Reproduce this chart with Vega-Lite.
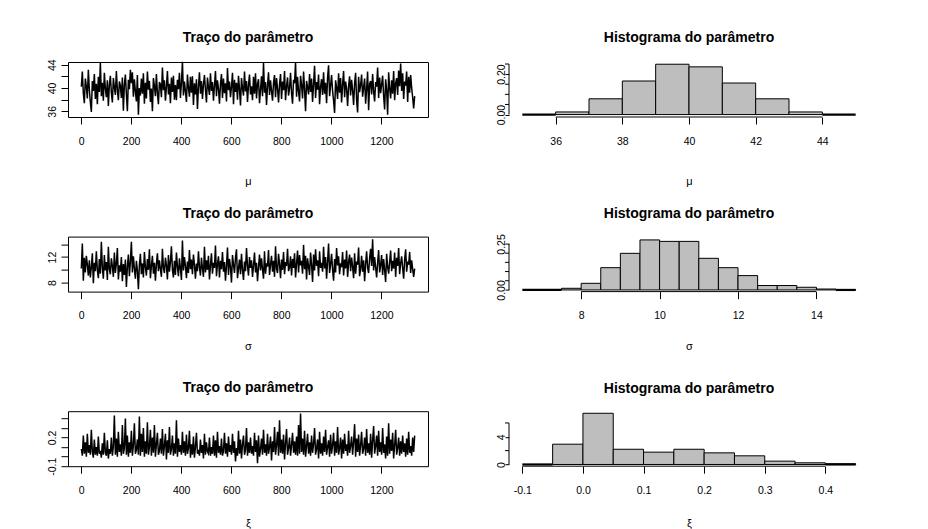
{
"$schema": "https://vega.github.io/schema/vega-lite/v6.json",
"background": "white",
"padding": {"left": 46, "top": 30, "right": 0, "bottom": 0},
"config": {
 "font": "Liberation Sans",
 "view": {"stroke": "black", "strokeWidth": 1},
 "axis": {"grid": false, "domain": false, "ticks": true, "tickColor": "black", "tickSize": 7, "tickWidth": 1, "labelColor": "black", "labelFontSize": 10.5, "labelFont": "Liberation Sans", "titleColor": "black", "titleFontWeight": "normal", "titleFontSize": 11, "titleFont": "Liberation Sans", "labelOverlap": false, "labelFlush": false, "labelBound": false},
 "axisY": {"labelAngle": 270, "labelAlign": "center", "labelBaseline": "alphabetic", "labelPadding": 6},
 "axisX": {"labelPadding": 12, "labelBaseline": "top", "titlePadding": 29},
 "title": {"fontSize": 14, "fontWeight": "bold", "font": "Liberation Sans", "color": "black", "anchor": "middle", "offset": 17.2, "baseline": "alphabetic"}
},
"datasets": {
"trace": [
{"t":1,"mu":40.2,"sigma":10.2,"xi":0.08},{"t":5,"mu":42.8,"sigma":14.1,"xi":0.01},{"t":9,"mu":39.1,"sigma":8.3,"xi":0.22},{"t":13,"mu":37.4,"sigma":11.9,"xi":0.03},{"t":17,"mu":41.6,"sigma":9.6,"xi":0.15},{"t":21,"mu":40.3,"sigma":12.2,"xi":0.00},{"t":25,"mu":38.2,"sigma":10.8,"xi":0.24},{"t":29,"mu":43.1,"sigma":9.1,"xi":0.04},{"t":33,"mu":39.7,"sigma":11.5,"xi":0.12},{"t":37,"mu":37.6,"sigma":8.8,"xi":0.02},
{"t":41,"mu":35.9,"sigma":10.4,"xi":0.28},{"t":45,"mu":41.2,"sigma":12.6,"xi":0.05},{"t":49,"mu":39.5,"sigma":7.9,"xi":-0.01},{"t":53,"mu":42.4,"sigma":11.1,"xi":0.18},{"t":57,"mu":38.1,"sigma":9.8,"xi":0.02},{"t":61,"mu":40.7,"sigma":12.9,"xi":0.10},{"t":65,"mu":37.2,"sigma":10.0,"xi":0.01},{"t":69,"mu":41.9,"sigma":8.7,"xi":0.21},{"t":73,"mu":39.3,"sigma":11.7,"xi":0.03},{"t":77,"mu":44.3,"sigma":9.4,"xi":0.06},
{"t":81,"mu":38.6,"sigma":14.4,"xi":-0.01},{"t":85,"mu":40.9,"sigma":10.3,"xi":0.14},{"t":89,"mu":37.8,"sigma":8.6,"xi":0.02},{"t":93,"mu":42.6,"sigma":12.3,"xi":0.25},{"t":97,"mu":39.9,"sigma":9.9,"xi":0.04},{"t":101,"mu":38.4,"sigma":11.2,"xi":0.01},{"t":105,"mu":41.3,"sigma":8.4,"xi":0.17},{"t":109,"mu":36.9,"sigma":13.6,"xi":-0.02},{"t":113,"mu":40.5,"sigma":10.1,"xi":0.08},{"t":117,"mu":42.1,"sigma":9.3,"xi":0.03},
{"t":121,"mu":39.2,"sigma":11.8,"xi":0.20},{"t":125,"mu":37.5,"sigma":10.6,"xi":0.01},{"t":129,"mu":41.7,"sigma":8.9,"xi":0.11},{"t":133,"mu":40.1,"sigma":12.7,"xi":0.43},{"t":137,"mu":38.8,"sigma":9.5,"xi":0.02},{"t":141,"mu":42.9,"sigma":11.0,"xi":0.19},{"t":145,"mu":39.6,"sigma":13.4,"xi":0.00},{"t":149,"mu":37.9,"sigma":8.5,"xi":0.26},{"t":153,"mu":41.1,"sigma":10.7,"xi":0.05},{"t":157,"mu":40.4,"sigma":9.7,"xi":0.13},
{"t":161,"mu":38.3,"sigma":12.0,"xi":0.01},{"t":165,"mu":41.8,"sigma":8.2,"xi":0.33},{"t":169,"mu":36.1,"sigma":10.9,"xi":0.03},{"t":173,"mu":40.6,"sigma":9.2,"xi":0.09},{"t":177,"mu":42.3,"sigma":11.6,"xi":0.40},{"t":181,"mu":38.9,"sigma":7.3,"xi":0.02},{"t":185,"mu":36.0,"sigma":10.5,"xi":0.22},{"t":189,"mu":41.4,"sigma":12.4,"xi":0.00},{"t":193,"mu":39.8,"sigma":9.0,"xi":0.15},{"t":197,"mu":43.1,"sigma":11.3,"xi":0.04},
{"t":201,"mu":40.8,"sigma":14.4,"xi":0.27},{"t":205,"mu":42.7,"sigma":9.6,"xi":0.01},{"t":209,"mu":38.5,"sigma":12.1,"xi":0.12},{"t":213,"mu":41.5,"sigma":10.2,"xi":0.35},{"t":217,"mu":39.4,"sigma":8.6,"xi":0.03},{"t":221,"mu":37.7,"sigma":11.4,"xi":0.07},{"t":225,"mu":42.2,"sigma":9.9,"xi":0.18},{"t":229,"mu":35.4,"sigma":6.95,"xi":0.02},{"t":233,"mu":40.0,"sigma":10.8,"xi":0.42},{"t":237,"mu":38.7,"sigma":12.5,"xi":0.01},
{"t":241,"mu":41.6,"sigma":9.3,"xi":0.24},{"t":245,"mu":39.0,"sigma":11.0,"xi":0.05},{"t":249,"mu":42.5,"sigma":8.8,"xi":0.30},{"t":253,"mu":37.3,"sigma":12.8,"xi":0.00},{"t":257,"mu":40.9,"sigma":10.4,"xi":0.16},{"t":261,"mu":38.2,"sigma":9.1,"xi":0.03},{"t":265,"mu":42.8,"sigma":11.7,"xi":0.36},{"t":269,"mu":39.7,"sigma":10.0,"xi":0.02},{"t":273,"mu":41.2,"sigma":13.2,"xi":0.10},{"t":277,"mu":37.6,"sigma":8.7,"xi":0.28},
{"t":281,"mu":39.9,"sigma":10.6,"xi":0.01},{"t":285,"mu":36.0,"sigma":12.2,"xi":0.20},{"t":289,"mu":41.7,"sigma":9.4,"xi":0.04},{"t":293,"mu":40.3,"sigma":11.1,"xi":0.33},{"t":297,"mu":38.6,"sigma":8.3,"xi":0.00},{"t":301,"mu":42.4,"sigma":10.9,"xi":0.13},{"t":305,"mu":39.1,"sigma":12.6,"xi":0.25},{"t":309,"mu":37.2,"sigma":9.8,"xi":0.02},{"t":313,"mu":41.0,"sigma":11.5,"xi":0.06},{"t":317,"mu":40.6,"sigma":10.1,"xi":0.19},
{"t":321,"mu":38.4,"sigma":8.9,"xi":0.03},{"t":325,"mu":43.5,"sigma":13.3,"xi":0.29},{"t":329,"mu":39.6,"sigma":10.3,"xi":0.01},{"t":333,"mu":41.3,"sigma":9.5,"xi":0.11},{"t":337,"mu":37.8,"sigma":11.9,"xi":0.24},{"t":341,"mu":40.2,"sigma":10.7,"xi":-0.03},{"t":345,"mu":42.9,"sigma":8.5,"xi":0.17},{"t":349,"mu":38.9,"sigma":12.3,"xi":0.04},{"t":353,"mu":40.7,"sigma":9.7,"xi":0.31},{"t":357,"mu":37.4,"sigma":11.2,"xi":0.02},
{"t":361,"mu":41.8,"sigma":13.7,"xi":0.08},{"t":365,"mu":39.3,"sigma":10.0,"xi":0.22},{"t":369,"mu":42.1,"sigma":8.8,"xi":0.01},{"t":373,"mu":38.0,"sigma":11.4,"xi":0.14},{"t":377,"mu":40.5,"sigma":9.2,"xi":0.03},{"t":381,"mu":37.9,"sigma":12.7,"xi":0.38},{"t":385,"mu":41.4,"sigma":10.5,"xi":0.00},{"t":389,"mu":39.8,"sigma":9.0,"xi":0.19},{"t":393,"mu":42.6,"sigma":11.8,"xi":0.05},{"t":397,"mu":38.3,"sigma":10.2,"xi":0.12},
{"t":401,"mu":40.9,"sigma":8.4,"xi":0.02},{"t":405,"mu":44.5,"sigma":14.6,"xi":0.26},{"t":409,"mu":38.7,"sigma":9.9,"xi":0.04},{"t":413,"mu":41.1,"sigma":12.0,"xi":0.16},{"t":417,"mu":39.4,"sigma":10.6,"xi":0.01},{"t":421,"mu":37.6,"sigma":8.7,"xi":0.23},{"t":425,"mu":42.3,"sigma":11.3,"xi":0.03},{"t":429,"mu":40.0,"sigma":9.5,"xi":0.09},{"t":433,"mu":38.5,"sigma":13.1,"xi":0.27},{"t":437,"mu":41.9,"sigma":10.1,"xi":-0.01},
{"t":441,"mu":39.2,"sigma":11.6,"xi":0.13},{"t":445,"mu":42.0,"sigma":9.3,"xi":0.02},{"t":449,"mu":37.1,"sigma":12.4,"xi":0.21},{"t":453,"mu":40.8,"sigma":10.8,"xi":-0.01},{"t":457,"mu":38.9,"sigma":8.6,"xi":0.10},{"t":461,"mu":41.5,"sigma":11.0,"xi":0.25},{"t":465,"mu":36.4,"sigma":9.8,"xi":0.03},{"t":469,"mu":40.3,"sigma":12.9,"xi":0.07},{"t":473,"mu":42.7,"sigma":10.4,"xi":0.01},{"t":477,"mu":39.0,"sigma":9.1,"xi":0.18},
{"t":481,"mu":41.2,"sigma":11.9,"xi":0.04},{"t":485,"mu":38.1,"sigma":10.2,"xi":0.12},{"t":489,"mu":40.6,"sigma":8.9,"xi":-0.02},{"t":493,"mu":42.2,"sigma":13.6,"xi":0.24},{"t":497,"mu":39.7,"sigma":9.6,"xi":0.02},{"t":501,"mu":37.5,"sigma":11.5,"xi":0.15},{"t":505,"mu":41.8,"sigma":10.0,"xi":0.05},{"t":509,"mu":40.1,"sigma":12.2,"xi":0.03},{"t":513,"mu":38.8,"sigma":8.5,"xi":0.20},{"t":517,"mu":42.5,"sigma":10.7,"xi":0.01},
{"t":521,"mu":39.5,"sigma":12.6,"xi":0.10},{"t":525,"mu":41.0,"sigma":9.4,"xi":0.03},{"t":529,"mu":37.8,"sigma":11.1,"xi":0.22},{"t":533,"mu":40.4,"sigma":10.3,"xi":0.01},{"t":537,"mu":42.9,"sigma":13.8,"xi":0.17},{"t":541,"mu":38.6,"sigma":9.0,"xi":-0.01},{"t":545,"mu":41.3,"sigma":10.9,"xi":0.26},{"t":549,"mu":39.9,"sigma":12.1,"xi":0.04},{"t":553,"mu":37.3,"sigma":8.8,"xi":0.11},{"t":557,"mu":40.7,"sigma":11.4,"xi":0.02},
{"t":561,"mu":42.4,"sigma":10.1,"xi":0.19},{"t":565,"mu":38.3,"sigma":12.8,"xi":0.01},{"t":569,"mu":41.6,"sigma":9.7,"xi":0.06},{"t":573,"mu":39.1,"sigma":11.2,"xi":0.25},{"t":577,"mu":40.8,"sigma":8.3,"xi":0.03},{"t":581,"mu":37.7,"sigma":10.6,"xi":0.14},{"t":585,"mu":43.4,"sigma":13.5,"xi":0.00},{"t":589,"mu":39.6,"sigma":9.2,"xi":0.21},{"t":593,"mu":41.1,"sigma":11.7,"xi":0.05},{"t":597,"mu":38.4,"sigma":10.4,"xi":0.12},
{"t":601,"mu":40.2,"sigma":8.0,"xi":0.02},{"t":605,"mu":42.6,"sigma":12.3,"xi":0.24},{"t":609,"mu":37.2,"sigma":10.8,"xi":0.04},{"t":613,"mu":41.4,"sigma":9.5,"xi":0.16},{"t":617,"mu":39.3,"sigma":11.9,"xi":-0.05},{"t":621,"mu":40.9,"sigma":13.2,"xi":0.09},{"t":625,"mu":38.0,"sigma":8.7,"xi":0.01},{"t":629,"mu":42.1,"sigma":10.2,"xi":0.27},{"t":633,"mu":39.8,"sigma":11.6,"xi":0.03},{"t":637,"mu":37.0,"sigma":9.3,"xi":0.18},
{"t":641,"mu":41.7,"sigma":12.5,"xi":-0.02},{"t":645,"mu":40.0,"sigma":10.0,"xi":0.13},{"t":649,"mu":38.7,"sigma":8.4,"xi":0.22},{"t":653,"mu":42.8,"sigma":11.3,"xi":0.02},{"t":657,"mu":39.4,"sigma":9.8,"xi":0.07},{"t":661,"mu":41.2,"sigma":13.4,"xi":0.30},{"t":665,"mu":37.6,"sigma":10.6,"xi":0.01},{"t":669,"mu":40.5,"sigma":9.1,"xi":0.15},{"t":673,"mu":42.3,"sigma":12.0,"xi":0.04},{"t":677,"mu":38.9,"sigma":10.3,"xi":0.20},
{"t":681,"mu":40.3,"sigma":11.5,"xi":0.03},{"t":685,"mu":37.9,"sigma":8.9,"xi":0.11},{"t":689,"mu":41.9,"sigma":10.7,"xi":0.01},{"t":693,"mu":39.0,"sigma":12.7,"xi":0.25},{"t":697,"mu":42.5,"sigma":9.6,"xi":0.05},{"t":701,"mu":38.2,"sigma":11.1,"xi":0.17},{"t":705,"mu":40.7,"sigma":8.2,"xi":-0.07},{"t":709,"mu":41.5,"sigma":10.4,"xi":0.22},{"t":713,"mu":37.4,"sigma":12.4,"xi":0.00},{"t":717,"mu":39.7,"sigma":9.9,"xi":0.08},
{"t":721,"mu":42.0,"sigma":11.8,"xi":0.19},{"t":725,"mu":38.6,"sigma":10.1,"xi":0.02},{"t":729,"mu":44.3,"sigma":8.6,"xi":0.28},{"t":733,"mu":39.2,"sigma":12.9,"xi":0.04},{"t":737,"mu":41.0,"sigma":9.4,"xi":0.13},{"t":741,"mu":37.1,"sigma":11.0,"xi":0.01},{"t":745,"mu":40.4,"sigma":10.5,"xi":0.24},{"t":749,"mu":42.7,"sigma":13.1,"xi":0.03},{"t":753,"mu":38.8,"sigma":9.2,"xi":0.10},{"t":757,"mu":41.3,"sigma":10.8,"xi":0.21},
{"t":761,"mu":39.5,"sigma":12.2,"xi":-0.04},{"t":765,"mu":37.8,"sigma":9.7,"xi":0.16},{"t":769,"mu":40.9,"sigma":11.4,"xi":0.05},{"t":773,"mu":42.2,"sigma":8.9,"xi":0.31},{"t":777,"mu":38.4,"sigma":13.7,"xi":0.02},{"t":781,"mu":41.7,"sigma":10.2,"xi":0.12},{"t":785,"mu":39.9,"sigma":9.5,"xi":0.26},{"t":789,"mu":37.5,"sigma":12.5,"xi":0.01},{"t":793,"mu":40.6,"sigma":10.9,"xi":0.38},{"t":797,"mu":42.4,"sigma":8.7,"xi":0.04},
{"t":801,"mu":38.1,"sigma":11.6,"xi":0.18},{"t":805,"mu":41.1,"sigma":10.0,"xi":0.03},{"t":809,"mu":39.6,"sigma":12.8,"xi":0.23},{"t":813,"mu":42.9,"sigma":9.3,"xi":-0.03},{"t":817,"mu":37.9,"sigma":11.2,"xi":0.14},{"t":821,"mu":40.3,"sigma":10.6,"xi":0.29},{"t":825,"mu":41.8,"sigma":13.3,"xi":0.02},{"t":829,"mu":38.7,"sigma":9.8,"xi":0.09},{"t":833,"mu":40.0,"sigma":10.4,"xi":0.20},{"t":837,"mu":42.6,"sigma":12.1,"xi":0.01},
{"t":841,"mu":39.1,"sigma":9.1,"xi":0.12},{"t":845,"mu":37.3,"sigma":11.7,"xi":0.25},{"t":849,"mu":41.4,"sigma":10.3,"xi":0.04},{"t":853,"mu":40.8,"sigma":12.6,"xi":0.16},{"t":857,"mu":44.3,"sigma":8.8,"xi":0.02},{"t":861,"mu":38.5,"sigma":11.0,"xi":0.21},{"t":865,"mu":41.9,"sigma":13.0,"xi":0.01},{"t":869,"mu":39.4,"sigma":9.6,"xi":0.33},{"t":873,"mu":37.7,"sigma":12.3,"xi":0.03},{"t":877,"mu":42.1,"sigma":10.7,"xi":0.45},
{"t":881,"mu":40.5,"sigma":11.4,"xi":0.05},{"t":885,"mu":38.2,"sigma":9.4,"xi":0.19},{"t":889,"mu":42.8,"sigma":13.9,"xi":0.02},{"t":893,"mu":39.8,"sigma":10.1,"xi":0.27},{"t":897,"mu":36.0,"sigma":12.2,"xi":0.00},{"t":901,"mu":41.2,"sigma":8.5,"xi":0.11},{"t":905,"mu":40.1,"sigma":11.8,"xi":0.24},{"t":909,"mu":38.9,"sigma":10.5,"xi":0.03},{"t":913,"mu":42.4,"sigma":9.2,"xi":0.15},{"t":917,"mu":39.3,"sigma":12.7,"xi":0.01},
{"t":921,"mu":41.6,"sigma":10.8,"xi":0.22},{"t":925,"mu":37.6,"sigma":8.1,"xi":0.04},{"t":929,"mu":40.7,"sigma":12.4,"xi":0.13},{"t":933,"mu":43.8,"sigma":9.9,"xi":0.30},{"t":937,"mu":38.3,"sigma":13.2,"xi":0.02},{"t":941,"mu":41.0,"sigma":10.6,"xi":0.08},{"t":945,"mu":39.7,"sigma":11.5,"xi":0.18},{"t":949,"mu":42.3,"sigma":9.0,"xi":-0.02},{"t":953,"mu":37.2,"sigma":12.9,"xi":0.26},{"t":957,"mu":40.2,"sigma":10.3,"xi":0.03},
{"t":961,"mu":41.5,"sigma":11.1,"xi":0.14},{"t":965,"mu":38.8,"sigma":9.7,"xi":0.01},{"t":969,"mu":42.7,"sigma":13.6,"xi":0.21},{"t":973,"mu":39.0,"sigma":10.2,"xi":0.05},{"t":977,"mu":40.9,"sigma":12.0,"xi":0.28},{"t":981,"mu":37.4,"sigma":8.6,"xi":0.02},{"t":985,"mu":41.8,"sigma":11.3,"xi":0.10},{"t":989,"mu":43.9,"sigma":14.1,"xi":0.17},{"t":993,"mu":38.6,"sigma":9.5,"xi":0.00},{"t":997,"mu":40.4,"sigma":10.9,"xi":0.23},
{"t":1001,"mu":42.2,"sigma":12.5,"xi":0.03},{"t":1005,"mu":39.5,"sigma":10.0,"xi":0.12},{"t":1009,"mu":37.8,"sigma":8.3,"xi":0.25},{"t":1013,"mu":35.7,"sigma":11.7,"xi":0.01},{"t":1017,"mu":41.3,"sigma":9.6,"xi":0.16},{"t":1021,"mu":40.0,"sigma":13.4,"xi":0.04},{"t":1025,"mu":38.1,"sigma":10.7,"xi":0.31},{"t":1029,"mu":42.5,"sigma":12.1,"xi":0.02},{"t":1033,"mu":39.2,"sigma":9.3,"xi":0.09},{"t":1037,"mu":41.7,"sigma":11.0,"xi":0.20},
{"t":1041,"mu":37.5,"sigma":10.4,"xi":-0.02},{"t":1045,"mu":40.6,"sigma":12.8,"xi":0.18},{"t":1049,"mu":42.9,"sigma":9.1,"xi":0.03},{"t":1053,"mu":38.4,"sigma":11.6,"xi":0.24},{"t":1057,"mu":41.1,"sigma":10.2,"xi":0.06},{"t":1061,"mu":39.9,"sigma":13.0,"xi":0.13},{"t":1065,"mu":36.9,"sigma":8.9,"xi":0.01},{"t":1069,"mu":40.3,"sigma":11.2,"xi":0.27},{"t":1073,"mu":42.0,"sigma":12.4,"xi":0.04},{"t":1077,"mu":38.7,"sigma":9.8,"xi":0.11},
{"t":1081,"mu":41.4,"sigma":11.9,"xi":0.21},{"t":1085,"mu":39.6,"sigma":10.5,"xi":0.02},{"t":1089,"mu":37.1,"sigma":8.7,"xi":0.15},{"t":1093,"mu":40.8,"sigma":12.6,"xi":0.34},{"t":1097,"mu":42.6,"sigma":9.4,"xi":0.00},{"t":1101,"mu":38.0,"sigma":11.3,"xi":0.19},{"t":1105,"mu":35.8,"sigma":10.8,"xi":0.05},{"t":1109,"mu":41.9,"sigma":13.5,"xi":0.23},{"t":1113,"mu":39.3,"sigma":9.0,"xi":0.01},{"t":1117,"mu":40.5,"sigma":10.1,"xi":0.12},
{"t":1121,"mu":42.3,"sigma":12.2,"xi":0.26},{"t":1125,"mu":38.5,"sigma":9.7,"xi":0.03},{"t":1129,"mu":40.1,"sigma":11.5,"xi":0.08},{"t":1133,"mu":41.6,"sigma":8.2,"xi":0.20},{"t":1137,"mu":37.3,"sigma":10.9,"xi":0.01},{"t":1141,"mu":39.8,"sigma":12.9,"xi":0.29},{"t":1145,"mu":42.8,"sigma":10.3,"xi":0.04},{"t":1149,"mu":36.2,"sigma":9.5,"xi":0.14},{"t":1153,"mu":40.7,"sigma":11.8,"xi":0.02},{"t":1157,"mu":41.2,"sigma":13.3,"xi":0.24},
{"t":1161,"mu":38.9,"sigma":10.6,"xi":-0.01},{"t":1165,"mu":42.4,"sigma":14.8,"xi":0.17},{"t":1169,"mu":39.4,"sigma":9.9,"xi":0.32},{"t":1173,"mu":37.7,"sigma":12.0,"xi":0.03},{"t":1177,"mu":41.0,"sigma":10.4,"xi":0.11},{"t":1181,"mu":40.2,"sigma":8.8,"xi":0.22},{"t":1185,"mu":43.5,"sigma":11.1,"xi":0.01},{"t":1189,"mu":38.3,"sigma":13.1,"xi":0.27},{"t":1193,"mu":41.8,"sigma":9.6,"xi":0.05},{"t":1197,"mu":39.1,"sigma":10.7,"xi":0.15},
{"t":1201,"mu":40.6,"sigma":12.3,"xi":0.02},{"t":1205,"mu":42.1,"sigma":9.2,"xi":0.30},{"t":1209,"mu":38.6,"sigma":11.7,"xi":0.04},{"t":1213,"mu":36.3,"sigma":10.0,"xi":0.13},{"t":1217,"mu":41.5,"sigma":8.1,"xi":-0.02},{"t":1221,"mu":39.7,"sigma":12.5,"xi":0.21},{"t":1225,"mu":35.4,"sigma":10.5,"xi":0.01},{"t":1229,"mu":42.7,"sigma":9.4,"xi":0.35},{"t":1233,"mu":40.0,"sigma":11.2,"xi":0.03},{"t":1237,"mu":38.2,"sigma":13.0,"xi":0.18},
{"t":1241,"mu":41.3,"sigma":9.8,"xi":0.06},{"t":1245,"mu":39.0,"sigma":11.4,"xi":0.25},{"t":1249,"mu":42.9,"sigma":10.2,"xi":-0.02},{"t":1253,"mu":37.9,"sigma":12.7,"xi":0.12},{"t":1257,"mu":40.8,"sigma":8.9,"xi":0.28},{"t":1261,"mu":41.7,"sigma":11.9,"xi":0.02},{"t":1265,"mu":38.8,"sigma":10.6,"xi":0.09},{"t":1269,"mu":43.0,"sigma":13.4,"xi":0.20},{"t":1273,"mu":40.3,"sigma":9.3,"xi":0.01},{"t":1277,"mu":44.2,"sigma":11.0,"xi":0.16},
{"t":1281,"mu":39.5,"sigma":12.1,"xi":0.03},{"t":1285,"mu":42.5,"sigma":10.3,"xi":0.22},{"t":1289,"mu":38.1,"sigma":8.6,"xi":0.05},{"t":1293,"mu":41.1,"sigma":11.6,"xi":0.14},{"t":1297,"mu":40.4,"sigma":13.2,"xi":0.00},{"t":1301,"mu":42.8,"sigma":9.7,"xi":0.19},{"t":1305,"mu":37.6,"sigma":11.3,"xi":0.02},{"t":1309,"mu":41.9,"sigma":10.8,"xi":0.26},{"t":1313,"mu":39.2,"sigma":12.8,"xi":0.04},{"t":1317,"mu":42.2,"sigma":9.5,"xi":0.11},
{"t":1321,"mu":40.0,"sigma":11.5,"xi":0.01},{"t":1325,"mu":38.4,"sigma":10.1,"xi":0.20},{"t":1329,"mu":36.5,"sigma":8.9,"xi":0.05},{"t":1333,"mu":38.6,"sigma":10.2,"xi":0.22}
],
"h1": [{"lo":36,"hi":37,"d":0.013},{"lo":37,"hi":38,"d":0.078},{"lo":38,"hi":39,"d":0.166},{"lo":39,"hi":40,"d":0.249},{"lo":40,"hi":41,"d":0.236},{"lo":41,"hi":42,"d":0.156},{"lo":42,"hi":43,"d":0.078},{"lo":43,"hi":44,"d":0.013}],
"h2": [{"lo":7.5,"hi":8,"d":0.009},{"lo":8,"hi":8.5,"d":0.036},{"lo":8.5,"hi":9,"d":0.121},{"lo":9,"hi":9.5,"d":0.199},{"lo":9.5,"hi":10,"d":0.272},{"lo":10,"hi":10.5,"d":0.264},{"lo":10.5,"hi":11,"d":0.264},{"lo":11,"hi":11.5,"d":0.172},{"lo":11.5,"hi":12,"d":0.121},{"lo":12,"hi":12.5,"d":0.078},{"lo":12.5,"hi":13,"d":0.024},{"lo":13,"hi":13.5,"d":0.024},{"lo":13.5,"hi":14,"d":0.0145},{"lo":14,"hi":14.5,"d":0.005},{"lo":14.5,"hi":15,"d":0.002}],
"h3": [{"lo":-0.05,"hi":0,"d":2.93},{"lo":0,"hi":0.05,"d":7.4},{"lo":0.05,"hi":0.1,"d":2.2},{"lo":0.1,"hi":0.15,"d":1.78},{"lo":0.15,"hi":0.2,"d":2.2},{"lo":0.2,"hi":0.25,"d":1.68},{"lo":0.25,"hi":0.3,"d":1.25},{"lo":0.3,"hi":0.35,"d":0.48},{"lo":0.35,"hi":0.4,"d":0.24},{"lo":0.4,"hi":0.45,"d":0.1}],
"segs": [
{"panel":"h1","kind":"zero","lo":35,"hi":36,"d":0,"d2":0},{"panel":"h1","kind":"zero","lo":44,"hi":45,"d":0,"d2":0},
{"panel":"h1","kind":"axis","lo":36,"hi":44,"d":-0.012,"d2":-0.012},{"panel":"h1","kind":"axis","lo":34.6,"hi":34.6,"d":0,"d2":0.25},
{"panel":"h1","kind":"axis","lo":34.48,"hi":34.6,"d":0.05,"d2":0.05},{"panel":"h1","kind":"axis","lo":34.48,"hi":34.6,"d":0.1,"d2":0.1},{"panel":"h1","kind":"axis","lo":34.48,"hi":34.6,"d":0.15,"d2":0.15},{"panel":"h1","kind":"axis","lo":34.48,"hi":34.6,"d":0.25,"d2":0.25},
{"panel":"h2","kind":"zero","lo":6.5,"hi":7.5,"d":0,"d2":0},{"panel":"h2","kind":"zero","lo":14.5,"hi":15,"d":0,"d2":0},
{"panel":"h2","kind":"axis","lo":8,"hi":14,"d":-0.009,"d2":-0.009},{"panel":"h2","kind":"axis","lo":6.16,"hi":6.16,"d":0,"d2":0.25},
{"panel":"h2","kind":"axis","lo":6.058,"hi":6.16,"d":0.05,"d2":0.05},{"panel":"h2","kind":"axis","lo":6.058,"hi":6.16,"d":0.1,"d2":0.1},{"panel":"h2","kind":"axis","lo":6.058,"hi":6.16,"d":0.15,"d2":0.15},{"panel":"h2","kind":"axis","lo":6.058,"hi":6.16,"d":0.2,"d2":0.2},
{"panel":"h3","kind":"zero","lo":-0.1,"hi":-0.05,"d":0,"d2":0},{"panel":"h3","kind":"zero","lo":0.4,"hi":0.45,"d":0,"d2":0},
{"panel":"h3","kind":"axis","lo":-0.1,"hi":0.4,"d":-0.25,"d2":-0.25},{"panel":"h3","kind":"axis","lo":-0.122,"hi":-0.122,"d":0,"d2":6},
{"panel":"h3","kind":"axis","lo":-0.1286,"hi":-0.122,"d":2,"d2":2},{"panel":"h3","kind":"axis","lo":-0.1286,"hi":-0.122,"d":6,"d2":6}
]
},
"columns": 2,
"bounds": "flush",
"spacing": {"row": 119.6, "column": 81},
"concat": [
{
 "width": 360, "height": 55,
 "title": {"text": "Traço do parâmetro", "offset": 14},
 "data": {"name": "trace"},
 "mark": {"type": "line", "color": "black", "strokeWidth": 1.5},
 "encoding": {
  "x": {"field": "t", "type": "quantitative", "scale": {"domain": [-52.3, 1386.3], "nice": false, "zero": false}, "axis": {"values": [0,200,400,600,800,1000,1200], "format": "d", "title": "μ", "labelOverlap": false}},
  "y": {"field": "mu", "type": "quantitative", "scale": {"domain": [35.02, 44.45], "nice": false, "zero": false}, "axis": {"values": [36,38,40,42,44], "title": null, "labelOverlap": false, "labelExpr": "indexof(['36','40','44'], format(datum.value, 'd')) >= 0 ? format(datum.value, 'd') : ''"}}
 }
},
{
 "width": 360, "height": 55,
 "title": {"text": "Histograma do parâmetro", "offset": 17.2},
 "view": {"stroke": null},
 "layer": [
  {"data": {"name": "h1"}, "mark": {"type": "rect", "fill": "#BEBEBE", "stroke": "black", "strokeWidth": 1},
   "encoding": {
    "x": {"field": "lo", "type": "quantitative", "scale": {"domain": [34.6, 45.4], "nice": false, "zero": false}, "axis": {"values": [36,38,40,42,44], "title": "μ", "labelOverlap": false}},
    "x2": {"field": "hi"},
    "y": {"field": "d", "type": "quantitative", "scale": {"domain": [-0.012, 0.26], "nice": false, "zero": false}, "axis": {"values": [0, 0.2], "format": ".2f", "title": null, "tickSize": 4, "labelPadding": 1, "labelOverlap": false}},
    "y2": {"datum": 0}
   }},
  {"data": {"name": "segs"}, "transform": [{"filter": "datum.panel == 'h1' && datum.kind == 'zero'"}], "mark": {"type": "rule", "color": "black", "strokeWidth": 2.2},
   "encoding": {"x": {"field": "lo", "type": "quantitative"}, "x2": {"field": "hi"}, "y": {"field": "d", "type": "quantitative"}, "y2": {"field": "d2"}}},
  {"data": {"name": "segs"}, "transform": [{"filter": "datum.panel == 'h1' && datum.kind == 'axis'"}], "mark": {"type": "rule", "color": "black", "strokeWidth": 1},
   "encoding": {"x": {"field": "lo", "type": "quantitative"}, "x2": {"field": "hi"}, "y": {"field": "d", "type": "quantitative"}, "y2": {"field": "d2"}}}
 ]
},
{
 "width": 360, "height": 55,
 "title": {"text": "Traço do parâmetro", "offset": 15.2},
 "data": {"name": "trace"},
 "mark": {"type": "line", "color": "black", "strokeWidth": 1.5},
 "encoding": {
  "x": {"field": "t", "type": "quantitative", "scale": {"domain": [-52.3, 1386.3], "nice": false, "zero": false}, "axis": {"values": [0,200,400,600,800,1000,1200], "format": "d", "title": "σ", "titlePadding": 19, "labelOverlap": false}},
  "y": {"field": "sigma", "type": "quantitative", "scale": {"domain": [6.59, 15.2], "nice": false, "zero": false}, "axis": {"values": [8,10,12,14], "title": null, "labelOverlap": false, "labelExpr": "indexof(['8','12'], format(datum.value, 'd')) >= 0 ? format(datum.value, 'd') : ''"}}
 }
},
{
 "width": 360, "height": 55,
 "title": {"text": "Histograma do parâmetro", "offset": 12.4},
 "view": {"stroke": null},
 "layer": [
  {"data": {"name": "h2"}, "mark": {"type": "rect", "fill": "#BEBEBE", "stroke": "black", "strokeWidth": 1},
   "encoding": {
    "x": {"field": "lo", "type": "quantitative", "scale": {"domain": [6.16, 15.34], "nice": false, "zero": false}, "axis": {"values": [8,10,12,14], "title": "σ", "titlePadding": 19, "labelOverlap": false}},
    "x2": {"field": "hi"},
    "y": {"field": "d", "type": "quantitative", "scale": {"domain": [-0.009, 0.29], "nice": false, "zero": false}, "axis": {"values": [0, 0.25], "format": ".2f", "title": null, "tickSize": 4, "labelPadding": 1, "labelOverlap": false}},
    "y2": {"datum": 0}
   }},
  {"data": {"name": "segs"}, "transform": [{"filter": "datum.panel == 'h2' && datum.kind == 'zero'"}], "mark": {"type": "rule", "color": "black", "strokeWidth": 2.2},
   "encoding": {"x": {"field": "lo", "type": "quantitative"}, "x2": {"field": "hi"}, "y": {"field": "d", "type": "quantitative"}, "y2": {"field": "d2"}}},
  {"data": {"name": "segs"}, "transform": [{"filter": "datum.panel == 'h2' && datum.kind == 'axis'"}], "mark": {"type": "rule", "color": "black", "strokeWidth": 1},
   "encoding": {"x": {"field": "lo", "type": "quantitative"}, "x2": {"field": "hi"}, "y": {"field": "d", "type": "quantitative"}, "y2": {"field": "d2"}}}
 ]
},
{
 "width": 360, "height": 55,
 "title": {"text": "Traço do parâmetro", "offset": 15.5},
 "data": {"name": "trace"},
 "mark": {"type": "line", "color": "black", "strokeWidth": 1.5},
 "encoding": {
  "x": {"field": "t", "type": "quantitative", "scale": {"domain": [-52.3, 1386.3], "nice": false, "zero": false}, "axis": {"values": [0,200,400,600,800,1000,1200], "format": "d", "title": "ξ", "titlePadding": 22, "labelOverlap": false}},
  "y": {"field": "xi", "type": "quantitative", "scale": {"domain": [-0.1, 0.4755], "nice": false, "zero": false}, "axis": {"values": [-0.1,0,0.1,0.2,0.3,0.4], "title": null, "labelOverlap": false, "labelExpr": "datum.value < -0.05 ? '-0.1' : (abs(datum.value - 0.2) < 0.001 ? '0.2' : '')"}}
 }
},
{
 "width": 360, "height": 55,
 "title": {"text": "Histograma do parâmetro", "offset": 15.5},
 "view": {"stroke": null},
 "layer": [
  {"data": {"name": "h3"}, "mark": {"type": "rect", "fill": "#BEBEBE", "stroke": "black", "strokeWidth": 1},
   "encoding": {
    "x": {"field": "lo", "type": "quantitative", "scale": {"domain": [-0.122, 0.472], "nice": false, "zero": false}, "axis": {"values": [-0.1,0,0.1,0.2,0.3,0.4], "title": "ξ", "titlePadding": 22, "labelOverlap": false, "labelExpr": "datum.value < -0.05 ? '-0.1' : format(datum.value, '.1f')"}},
    "x2": {"field": "hi"},
    "y": {"field": "d", "type": "quantitative", "scale": {"domain": [-0.25, 7.7], "nice": false, "zero": false}, "axis": {"values": [0, 4], "format": "d", "title": null, "tickSize": 4, "labelPadding": 1, "labelOverlap": false}},
    "y2": {"datum": 0}
   }},
  {"data": {"name": "segs"}, "transform": [{"filter": "datum.panel == 'h3' && datum.kind == 'zero'"}], "mark": {"type": "rule", "color": "black", "strokeWidth": 2.2},
   "encoding": {"x": {"field": "lo", "type": "quantitative"}, "x2": {"field": "hi"}, "y": {"field": "d", "type": "quantitative"}, "y2": {"field": "d2"}}},
  {"data": {"name": "segs"}, "transform": [{"filter": "datum.panel == 'h3' && datum.kind == 'axis'"}], "mark": {"type": "rule", "color": "black", "strokeWidth": 1},
   "encoding": {"x": {"field": "lo", "type": "quantitative"}, "x2": {"field": "hi"}, "y": {"field": "d", "type": "quantitative"}, "y2": {"field": "d2"}}}
 ]
}
]
}
